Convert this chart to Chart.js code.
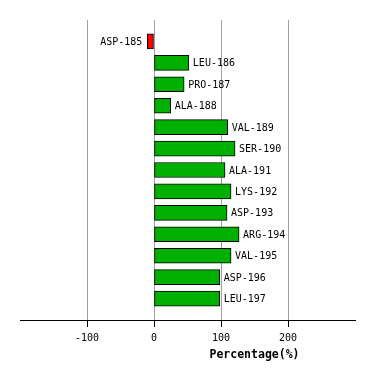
<!DOCTYPE html>
<html><head><meta charset="utf-8">
<script src="https://cdn.jsdelivr.net/npm/chart.js@4/dist/chart.umd.min.js"></script>
<style>html,body{margin:0;padding:0;background:#fff}</style>
</head><body>
<canvas id="c" width="374" height="380" style="display:block;width:374px;height:380px"></canvas>
<script>
const residues = ['ASP-185','LEU-186','PRO-187','ALA-188','VAL-189','SER-190','ALA-191','LYS-192','ASP-193','ARG-194','VAL-195','ASP-196','LEU-197'];
const percentages = [-10, 52, 45, 25, 110, 121, 106, 115, 109, 127, 115, 98, 98];
const xTicks = [-100, 0, 100, 200];
const xMin = -200, xMax = 300;
const axisTitle = 'Percentage(%)';

const POS = '#00b000', NEG = '#ff0000';
const MONO = '"DejaVu Sans Mono", monospace';

const barLabels = {
  id: 'barLabels',
  afterDatasetsDraw(chart) {
    const ctx = chart.ctx;
    const meta = chart.getDatasetMeta(0);
    ctx.save();
    ctx.font = '10px ' + MONO;
    ctx.fillStyle = '#000';
    ctx.textBaseline = 'middle';
    meta.data.forEach((bar, i) => {
      const v = percentages[i];
      if (v >= 0) { ctx.textAlign = 'left'; ctx.fillText(residues[i], bar.x + 4, bar.y + 1); }
      else { ctx.textAlign = 'right'; ctx.fillText(residues[i], bar.x - 5, bar.y + 1); }
    });
    ctx.restore();
  },
  afterDraw(chart) {
    const ctx = chart.ctx;
    const xs = chart.scales.x;
    ctx.save();
    ctx.font = 'bold 11.5px ' + MONO;
    ctx.fillStyle = '#000';
    ctx.textAlign = 'center';
    ctx.textBaseline = 'middle';
    ctx.fillText(axisTitle, xs.getPixelForValue(150), 355);
    ctx.restore();
  }
};

new Chart(document.getElementById('c'), {
  type: 'bar',
  data: {
    datasets: [{
      data: percentages.map((v, i) => ({ x: v, y: i })),
      backgroundColor: percentages.map(v => v >= 0 ? POS : NEG),
      borderColor: '#000',
      borderWidth: 1,
      borderSkipped: false,
      barThickness: 15
    }]
  },
  options: {
    indexAxis: 'y',
    responsive: false,
    animation: false,
    devicePixelRatio: 1,
    layout: { padding: { left: 20, right: 19, top: 20, bottom: 0 } },
    plugins: { legend: { display: false }, tooltip: { enabled: false } },
    scales: {
      x: {
        type: 'linear', min: xMin, max: xMax,
        afterBuildTicks: s => { s.ticks = xTicks.map(v => ({ value: v })); },
        afterFit: s => { s.height = 60; },
        ticks: { font: { family: MONO, size: 10 }, color: '#000', padding: 5, maxRotation: 0 },
        grid: { color: '#a0a0a0', tickColor: '#000', tickLength: 7, lineWidth: 1 },
        border: { color: '#000', width: 1 }
      },
      y: { type: 'linear', reverse: true, min: -1, max: 13, offset: false, display: false }
    }
  },
  plugins: [barLabels]
});
</script>
</body></html>
